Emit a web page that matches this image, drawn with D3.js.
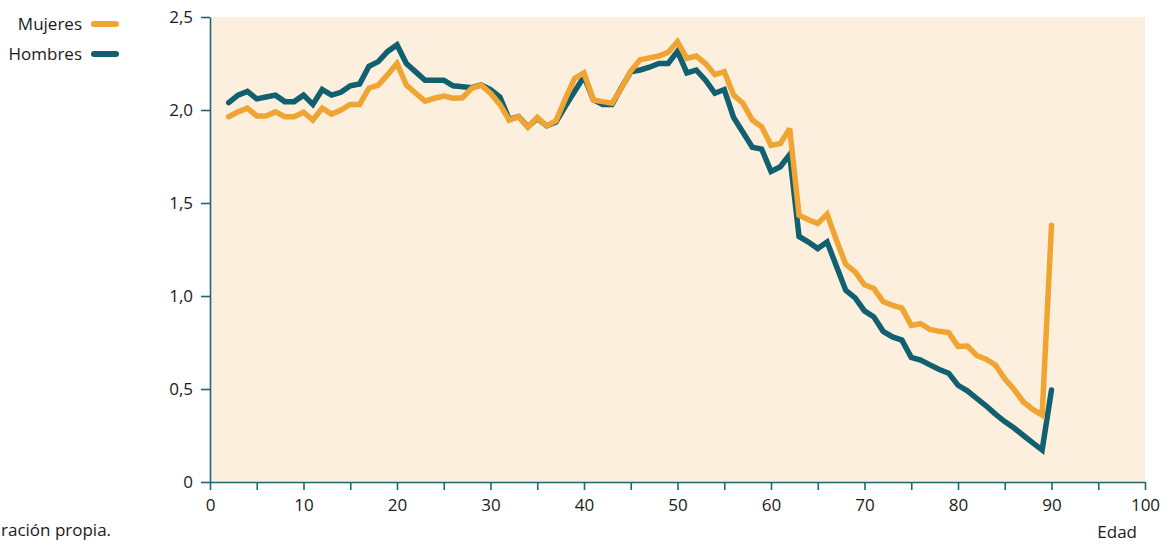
<!DOCTYPE html>
<html><head><meta charset="utf-8">
<script src="https://cdn.jsdelivr.net/npm/d3@7"></script>
<style>
body{margin:0;background:#ffffff;}
text{font-family:"Open Sans",sans-serif;fill:#1a1a1a;}
</style>
</head><body>
<svg id="chart" width="1168" height="544"></svg>
<script>
const ages = [2,3,4,5,6,7,8,9,10,11,12,13,14,15,16,17,18,19,20,21,22,23,24,25,26,27,28,29,30,
  31,32,33,34,35,36,37,38,39,40,41,42,43,44,45,46,47,48,49,50,51,52,53,54,55,56,57,58,59,60,
  61,62,63,64,65,66,67,68,69,70,71,72,73,74,75,76,77,78,79,80,81,82,83,84,85,86,87,88,89,90];

const mujeres = [1.964,1.99,2.01,1.968,1.968,1.99,1.964,1.964,1.988,1.946,2.01,1.978,2.0,2.03,2.03,
  2.117,2.134,2.19,2.25,2.134,2.09,2.048,2.063,2.075,2.063,2.066,2.117,2.134,2.09,
  2.03,1.946,1.964,1.907,1.96,1.914,1.942,2.06,2.17,2.20,2.054,2.045,2.036,2.117,2.21,2.27,2.28,2.29,2.31,2.367,
  2.278,2.29,2.25,2.19,2.206,2.08,2.036,1.946,1.91,1.81,
  1.82,1.90,1.435,1.41,1.39,1.44,1.30,1.17,1.13,1.06,1.04,0.97,0.95,0.935,0.842,0.851,0.82,0.81,0.803,0.729,
  0.731,0.68,0.66,0.629,0.555,0.497,0.43,0.39,0.36,1.38];

const hombres = [2.04,2.08,2.10,2.06,2.07,2.08,2.045,2.045,2.08,2.03,2.11,2.08,2.095,2.13,2.14,
  2.235,2.26,2.315,2.35,2.25,2.205,2.16,2.16,2.16,2.13,2.125,2.12,2.135,2.11,
  2.07,1.95,1.965,1.91,1.955,1.915,1.935,2.02,2.10,2.18,2.055,2.03,2.03,2.12,2.205,2.215,2.23,2.25,2.25,2.315,
  2.20,2.215,2.16,2.09,2.11,1.96,1.88,1.80,1.79,1.67,
  1.695,1.76,1.32,1.29,1.255,1.29,1.16,1.03,0.99,0.92,0.887,0.81,0.78,0.763,0.67,0.656,0.63,0.605,0.585,0.52,
  0.49,0.45,0.41,0.365,0.325,0.29,0.25,0.21,0.172,0.495];

const seriesNames = ["Mujeres", "Hombres"];
const seriesColors = ["#f0a431", "#10606f"];
const yTickValues = [0, 0.5, 1, 1.5, 2, 2.5];
const yTickLabels = ["0", "0,5", "1,0", "1,5", "2,0", "2,5"];
const xTickValues = [0,5,10,15,20,25,30,35,40,45,50,55,60,65,70,75,80,85,90,95,100];
const xTickLabels = ["0","","10","","20","","30","","40","","50","","60","","70","","80","","90","","100"];
const xAxisTitle = "Edad";
const sourceText = "ración propia.";

const axisColor = "#1d6677";
const svg = d3.select("#chart");
const x = d3.scaleLinear().domain([0, 100]).range([210, 1145]);
const y = d3.scaleLinear().domain([0, 2.5]).range([482, 17]);

// plot background
svg.append("rect")
  .attr("x", x(0)).attr("y", y(2.5))
  .attr("width", x(100) - x(0)).attr("height", y(0) - y(2.5))
  .attr("fill", "#fdefde");

// lines (Hombres below, Mujeres on top)
const line = d3.line().x((d, i) => x(ages[i])).y(d => y(d));
[[hombres, seriesColors[1]], [mujeres, seriesColors[0]]].forEach(([vals, col]) => {
  svg.append("path")
    .datum(vals)
    .attr("d", line)
    .attr("fill", "none")
    .attr("stroke", col)
    .attr("stroke-width", 5.5)
    .attr("stroke-linejoin", "miter")
    .attr("stroke-miterlimit", 3)
    .attr("stroke-linecap", "round");
});

// axes
const yAxis = d3.axisLeft(y).tickValues(yTickValues)
  .tickFormat((d, i) => yTickLabels[i]).tickSize(9).tickSizeOuter(0).tickPadding(8);
const gy = svg.append("g").attr("transform", `translate(${x(0)},0)`).call(yAxis);

const xAxis = d3.axisBottom(x).tickValues(xTickValues)
  .tickFormat((d, i) => xTickLabels[i]).tickSize(8).tickSizeOuter(0).tickPadding(9);
const gx = svg.append("g").attr("transform", `translate(0,${y(0)})`).call(xAxis);

[gx, gy].forEach(g => {
  g.select(".domain").attr("stroke", axisColor).attr("stroke-width", 1.6);
  g.selectAll(".tick line").attr("stroke", axisColor).attr("stroke-width", 1.6);
  g.selectAll(".tick text").attr("fill", "#1a1a1a")
    .style("font-family", '"Open Sans", sans-serif').style("font-size", "17px");
});

// axis title
svg.append("text").attr("x", 1137).attr("y", 538)
  .attr("text-anchor", "end").style("font-size", "17px").text(xAxisTitle);

// source note
svg.append("text").attr("x", 1).attr("y", 536)
  .attr("text-anchor", "start").style("font-size", "17px").text(sourceText);

// legend
const legendY = [24, 54];
seriesNames.forEach((name, i) => {
  svg.append("text").attr("x", 82).attr("y", legendY[i]).attr("dy", "0.35em")
    .attr("text-anchor", "end").style("font-size", "17px").text(name);
  svg.append("line")
    .attr("x1", 94).attr("x2", 116).attr("y1", legendY[i]).attr("y2", legendY[i])
    .attr("stroke", seriesColors[i]).attr("stroke-width", 6).attr("stroke-linecap", "round");
});
</script>
</body></html>
